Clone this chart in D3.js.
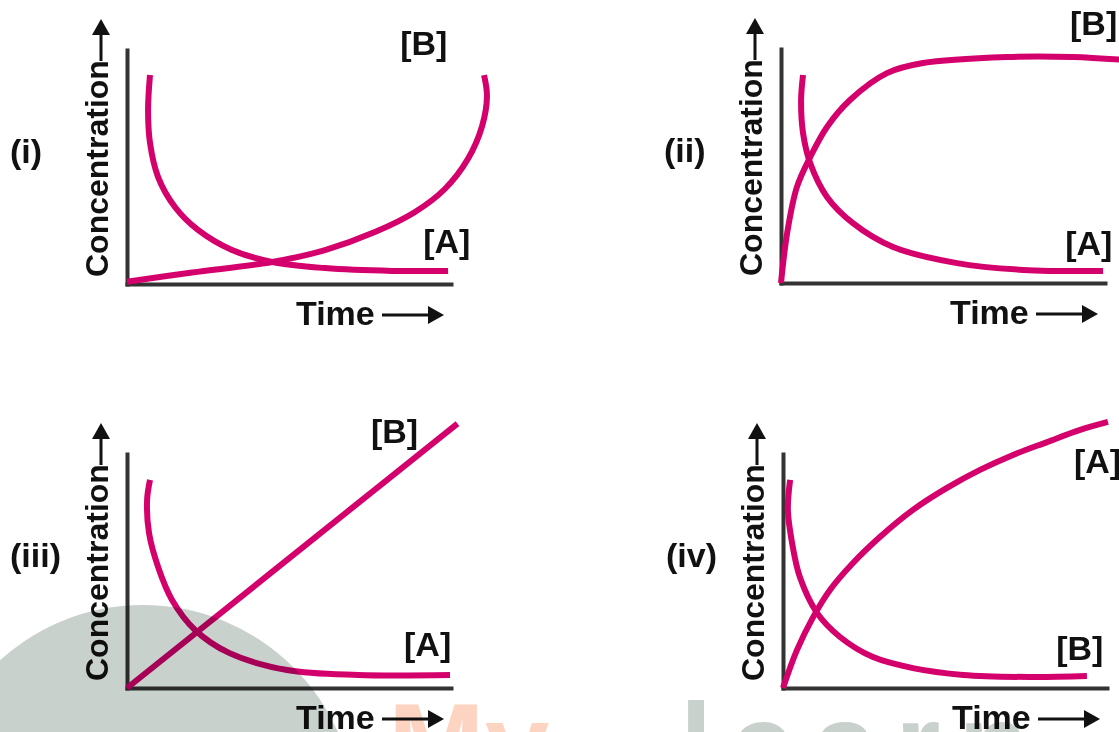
<!DOCTYPE html>
<html>
<head>
<meta charset="utf-8">
<script src="https://cdn.jsdelivr.net/npm/d3@7/dist/d3.min.js"></script>
<style>
  body { margin: 0; background: #fff; overflow: hidden; }
  svg text { font-family: "Liberation Sans", Arial, Helvetica, sans-serif; font-weight: bold; fill: #111; }
</style>
</head>
<body>
<div id="chart"></div>
<script>
width = 1119;
height = 732;
lineColor = "#d4006c";
axisColor = "#333";

// panel names and axis titles
panelNames = ["(i)", "(ii)", "(iii)", "(iv)"];
xTitle = "Time";
yTitle = "Concentration";

// curves, [time, concentration] on a 0-10 grid
iA = [[0.71, 8.93], [0.65, 7.44], [0.71, 6.03], [0.96, 4.57], [1.48, 3.29], [2.19, 2.31], [3.24, 1.45], [4.48, 0.94], [6.11, 0.68], [8.18, 0.56], [9.91, 0.56]];
iB = [[0, 0.1], [2.01, 0.49], [4.48, 0.94], [6.11, 1.45], [7.65, 2.22], [8.89, 3.08], [9.81, 4.06], [10.52, 5.34], [10.96, 6.75], [11.11, 8.03], [11.02, 8.93]];

iiA = [[0.68, 8.89], [0.62, 7.82], [0.68, 6.41], [0.90, 5.13], [1.42, 3.68], [2.22, 2.56], [3.46, 1.54], [5.43, 0.85], [7.47, 0.56], [9.94, 0.51]];
iiB = [[0, 0], [0.19, 2.14], [0.49, 4.10], [0.90, 5.38], [1.42, 6.67], [2.13, 7.82], [3.27, 8.97], [4.38, 9.40], [6.98, 9.66], [9.01, 9.66], [10.62, 9.53]];

iiiA = [[0.71, 8.89], [0.62, 8.03], [0.68, 6.62], [0.96, 5.17], [1.39, 3.76], [2.10, 2.48], [3.15, 1.50], [4.94, 0.77], [7.13, 0.56], [9.97, 0.56]];
iiiB = [[0, 0], [10.2, 11.3]];

ivA = [[0, 0], [0.43, 1.62], [0.93, 3.03], [1.45, 4.19], [2.16, 5.34], [2.99, 6.45], [4.01, 7.61], [5.06, 8.55], [6.08, 9.32], [7.10, 9.96], [8.15, 10.51], [9.17, 11.03], [10.03, 11.37]];
ivB = [[0.22, 8.89], [0.15, 7.61], [0.28, 6.20], [0.52, 4.74], [1.05, 3.21], [1.76, 2.18], [2.78, 1.32], [4.01, 0.85], [5.56, 0.56], [7.62, 0.47], [9.38, 0.51]];

seriesNames = ["[A]", "[B]"];
panelData = [[iA, iB], [iiA, iiB], [iiiA, iiiB], [ivA, ivB]];

// where the panels sit and where the [A]/[B] tags go (in grid units)
panelLayout = [
  {ox: 127, oy: 284, tags: [[9.14, 1.32], [8.43, 9.79]]},
  {ox: 781, oy: 283, tags: [[8.77, 1.20], [8.92, 10.6]]},
  {ox: 127, oy: 688, tags: [[8.55, 1.37], [7.53, 10.47]]},
  {ox: 783, oy: 688, tags: [[8.98, 9.19], [8.43, 1.20]]}
];
axisW = 324;
axisH = 234;

function drawPanel(svg, i) {
  const lay = panelLayout[i];
  const ox = lay.ox, oy = lay.oy;

  const x = d3.scaleLinear().domain([0, 10]).range([ox, ox + axisW]);
  const y = d3.scaleLinear().domain([0, 10]).range([oy, oy - axisH]);

  const g = svg.append("g");

  // bare axes, no ticks
  g.append("g")
      .attr("transform", `translate(0, ${oy})`)
      .call(d3.axisBottom(x).tickValues([]).tickSizeOuter(0))
      .call(a => a.select(".domain").attr("stroke", axisColor).attr("stroke-width", 4).attr("stroke-linecap", "square"));
  g.append("g")
      .attr("transform", `translate(${ox}, 0)`)
      .call(d3.axisLeft(y).tickValues([]).tickSizeOuter(0))
      .call(a => a.select(".domain").attr("stroke", axisColor).attr("stroke-width", 4).attr("stroke-linecap", "square"));

  const line = d3.line()
      .x(d => x(d[0]))
      .y(d => y(d[1]))
      .curve(d3.curveCatmullRom.alpha(0.5));

  g.selectAll("path.curve")
    .data(panelData[i])
    .join("path")
      .attr("class", "curve")
      .attr("d", line)
      .attr("fill", "none")
      .attr("stroke", lineColor)
      .attr("stroke-width", 6);

  g.selectAll("text.tag")
    .data(seriesNames)
    .join("text")
      .attr("class", "tag")
      .attr("x", (d, k) => x(lay.tags[k][0]))
      .attr("y", (d, k) => y(lay.tags[k][1]))
      .attr("font-size", 34)
      .text(d => d);

  // panel number
  g.append("text")
      .attr("x", ox - 117)
      .attr("y", oy - 121)
      .attr("font-size", 34)
      .text(panelNames[i]);

  // Time ----->
  g.append("text")
      .attr("x", ox + 169)
      .attr("y", oy + 41)
      .attr("font-size", 34)
      .text(xTitle);
  g.append("line")
      .attr("x1", ox + 255).attr("x2", ox + 304)
      .attr("y1", oy + 31).attr("y2", oy + 31)
      .attr("stroke", "#111").attr("stroke-width", 3);
  g.append("path")
      .attr("d", `M${ox + 317},${oy + 31}L${ox + 301},${oy + 22}L${ox + 301},${oy + 40}Z`)
      .attr("fill", "#111");

  // Concentration ----> (rotated)
  g.append("text")
      .attr("transform", `translate(${ox - 19}, ${oy - 7}) rotate(-90)`)
      .attr("font-size", 32)
      .text(yTitle);
  g.append("line")
      .attr("x1", ox - 26).attr("x2", ox - 26)
      .attr("y1", oy - 223).attr("y2", oy - 252)
      .attr("stroke", "#111").attr("stroke-width", 3);
  g.append("path")
      .attr("d", `M${ox - 26},${oy - 265}L${ox - 35},${oy - 249}L${ox - 17},${oy - 249}Z`)
      .attr("fill", "#111");
}

function drawWatermark(svg) {
  const w = svg.append("g").style("mix-blend-mode", "multiply");
  w.append("circle")
      .attr("cx", 143).attr("cy", 818).attr("r", 213)
      .attr("fill", "#c9d1cd");
  w.append("text")
      .attr("x", 388).attr("y", 785)
      .attr("font-size", 116)
      .style("fill", "#fdd3c1")
      .text("My");
  w.append("text")
      .attr("x", 680).attr("y", 785)
      .attr("font-size", 116)
      .attr("letter-spacing", 18)
      .style("fill", "#c9d1cd")
      .text("learn");
}

function init() {
  const svg = d3.select("#chart")
    .append("svg")
      .attr("width", width)
      .attr("height", height)
      .style("display", "block")
      .style("background", "#fff");

  for (let i = 0; i < panelNames.length; i++) drawPanel(svg, i);
  drawWatermark(svg);
}
window.onload = init;
</script>
</body>
</html>
